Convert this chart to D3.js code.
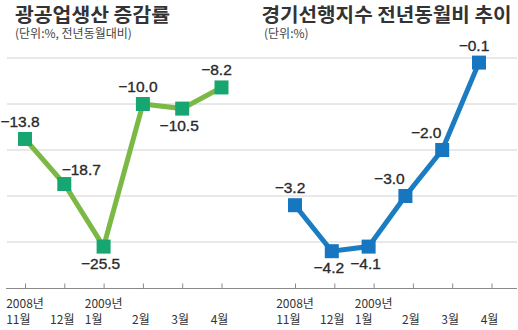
<!DOCTYPE html>
<html><head><meta charset="utf-8">
<script src="https://cdn.jsdelivr.net/npm/d3@7"></script>
<style>body{margin:0;background:#fff} svg{display:block}</style>
</head><body>
<svg id="c" width="518" height="330"></svg>
<script>
// ---- data ----
const months = ["11월","12월","1월","2월","3월","4월"];
const years = ["2008년","","2009년","","",""];
const industrial = [-13.8, -18.7, -25.5, -10.0, -10.5, -8.2];
const leading = [-3.2, -4.2, -4.1, -3.0, -2.0, -0.1];
const industrialLabelPos = ["above","right","below","above","below","above"];
const leadingLabelPos = ["above","below","below","left","left","above"];
const titles = ["광공업생산 증감률","경기선행지수 전년동월비 추이"];
const subtitles = ["(단위:%, 전년동월대비)","(단위:%)"];
const leftGridValues = [-5,-10,-15,-20,-25];

// ---- drawing ----
const svg = d3.select("#c");
const KR = "'Noto Sans CJK KR','Noto Sans',sans-serif";
const NUM = "'Liberation Sans',Arial,sans-serif";

const yL = d3.scaleLinear().domain([-30,-5]).range([288,58]);
const yR = d3.scaleLinear().domain([-5,0]).range([288,58]);
const xL = d3.scalePoint().domain(months).range([25,221.5]);
const xRt = d3.scalePoint().domain(months).range([295,491.5]);
const xRp = d3.scalePoint().domain(months).range([295,479]);

// gridlines (shared across both panels)
svg.append("g").selectAll("line").data(leftGridValues).join("line")
  .attr("x1",7).attr("x2",517)
  .attr("y1",d=>yL(d)).attr("y2",d=>yL(d))
  .attr("stroke","#d2d2d2").attr("stroke-width",1);

// baseline axis line
svg.append("line").attr("x1",6).attr("x2",517)
  .attr("y1",yL(-30)+0.5).attr("y2",yL(-30)+0.5)
  .attr("stroke","#8a8a8a").attr("stroke-width",1);

function axis(x){
  const g = svg.append("g").attr("transform",`translate(0,${yL(-30)+0.5})`)
    .call(d3.axisBottom(x).tickSizeInner(-5).tickSizeOuter(0).tickFormat(""));
  g.select(".domain").remove();
  g.selectAll(".tick line").attr("stroke","#8a8a8a");
  months.forEach((m,i)=>{
    const tx = x(m);
    if(years[i]){
      const yt = svg.append("text").text(years[i]).attr("x",tx).attr("y",308)
        .attr("text-anchor","middle").attr("font-family",KR).attr("font-size",12).attr("fill","#333");
      const w = yt.node().getComputedTextLength();
      svg.append("text").text(m).attr("x",tx-w/2).attr("y",324)
        .attr("font-family",KR).attr("font-size",12).attr("fill","#333");
    } else {
      svg.append("text").text(m).attr("x",tx-2).attr("y",324).attr("text-anchor","middle")
        .attr("font-family",KR).attr("font-size",12).attr("fill","#333");
    }
  });
}
axis(xL); axis(xRt);

const offsets = {above:[-5,-12], right:[17,-9], below:[-3,22], left:[-16,-12]};
function series(vals, x, y, lineColor, markColor, pos){
  const line = d3.line().x((d,i)=>x(months[i])).y(d=>y(d));
  svg.append("path").datum(vals).attr("d",line).attr("fill","none")
    .attr("stroke",lineColor).attr("stroke-width",5).attr("stroke-linejoin","miter");
  svg.append("g").selectAll("rect").data(vals).join("rect")
    .attr("x",(d,i)=>x(months[i])-7).attr("y",d=>y(d)-7)
    .attr("width",14).attr("height",14).attr("fill",markColor);
  svg.append("g").selectAll("text").data(vals).join("text")
    .attr("x",(d,i)=>x(months[i])+offsets[pos[i]][0])
    .attr("y",(d,i)=>y(d)+offsets[pos[i]][1])
    .attr("text-anchor","middle").attr("font-family",NUM).attr("font-size",15.5)
    .attr("fill","#2a2a2a").attr("stroke","#2a2a2a").attr("stroke-width",0.35)
    .text(d=>"\u2212"+Math.abs(d).toFixed(1));
}
series(industrial, xL, yL, "#7bb845", "#17a572", industrialLabelPos);
series(leading, xRp, yR, "#1b7cc2", "#1676bf", leadingLabelPos);

// titles
const tx = [15,261.5], tw = [155,250], sx = [15,264];
titles.forEach((t,i)=>{
  svg.append("text").text(t).attr("x",tx[i]).attr("y",22)
    .attr("font-family",KR).attr("font-weight","bold").attr("font-size",19.5)
    .attr("fill","#333").attr("textLength",tw[i]).attr("lengthAdjust","spacingAndGlyphs");
  svg.append("text").text(subtitles[i]).attr("x",sx[i]).attr("y",38)
    .attr("font-family",KR).attr("font-size",12).attr("fill","#444");
});
</script>
</body></html>
